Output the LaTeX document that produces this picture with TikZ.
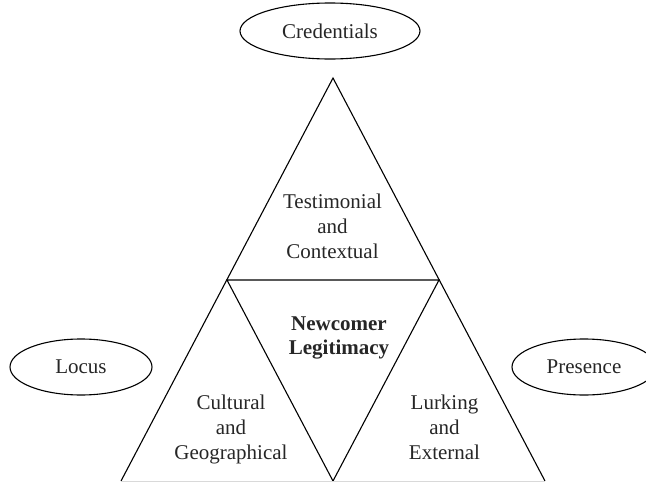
\documentclass[tikz,border=0pt]{standalone}
\usepackage{fontspec}
\setmainfont{Liberation Serif}
\usetikzlibrary{shapes.geometric}
\begin{document}
\begin{tikzpicture}[x=1pt,y=-1pt,
  edge/.style={line width=1.1pt, black, line join=miter},
  oval/.style={ellipse, draw, line width=1.1pt, inner sep=0pt, minimum width=#1, minimum height=56pt},
  lbl/.style={align=center, text=black!85, font=\fontsize{21}{25}\selectfont, inner sep=0pt},
  bold/.style={align=center, text=black!85, font=\fontsize{21}{24}\selectfont\bfseries, inner sep=0pt}]
\useasboundingbox (0,0) rectangle (646,482);
\coordinate (apex) at (333,78);
\coordinate (bl) at (121,481);
\coordinate (br) at (545,481);
\coordinate (ml) at (227,280);
\coordinate (mr) at (439,280);
\coordinate (mb) at (333,481);
\draw[edge] (bl) -- (apex) -- (br);
\draw[edge] (ml) -- (mr) -- (mb) -- cycle;
\draw[line width=1pt, black!15] (bl) -- (br);
\node[oval=180pt, lbl] (cred) at (330,31) {Credentials};
\node[oval=142pt, lbl] (locus) at (81,367) {Locus};
\node[oval=144pt, lbl] (pres) at (584,367) {Presence};
\node[lbl] (test) at (332.5,226.5) {Testimonial\\and\\Contextual};
\node[bold] (newc) at (339,338) {Newcomer\\Legitimacy};
\node[lbl] (cult) at (231,429.2) {Cultural\\and\\Geographical};
\node[lbl] (lurk) at (444.5,427.8) {Lurking\\and\\External};
\end{tikzpicture}
\end{document}
